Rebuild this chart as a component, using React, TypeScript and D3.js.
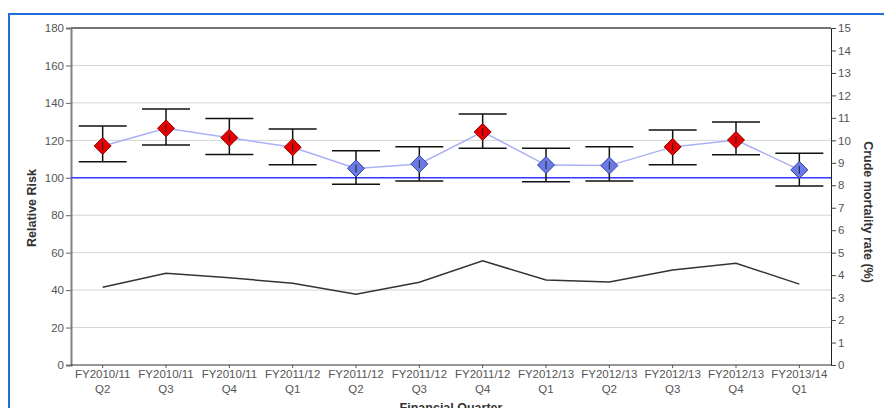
import React, { useEffect, useRef } from 'react';
import * as d3 from 'd3';

const quarters = [
  ['FY2010/11', 'Q2'], ['FY2010/11', 'Q3'], ['FY2010/11', 'Q4'], ['FY2011/12', 'Q1'],
  ['FY2011/12', 'Q2'], ['FY2011/12', 'Q3'], ['FY2011/12', 'Q4'], ['FY2012/13', 'Q1'],
  ['FY2012/13', 'Q2'], ['FY2012/13', 'Q3'], ['FY2012/13', 'Q4'], ['FY2013/14', 'Q1'],
];
const relRisk = [117, 126.4, 121.4, 116.3, 105, 107.4, 124.5, 106.8, 106.5, 116.5, 120.2, 104.2];
const ciUpper = [127.7, 136.8, 131.6, 126, 114.5, 116.6, 134, 115.8, 116.6, 125.5, 129.8, 113.1];
const ciLower = [108.6, 117.5, 112.5, 107, 96.6, 98.3, 115.8, 97.9, 98.3, 107, 112.3, 95.6];
const mortality = [3.46, 4.08, 3.88, 3.64, 3.15, 3.68, 4.64, 3.78, 3.69, 4.23, 4.53, 3.6];
const leftTicks = [0, 20, 40, 60, 80, 100, 120, 140, 160, 180];
const rightTicks = d3.range(0, 16);

export default function App() {
  const svgRef = useRef<SVGSVGElement>(null);

  useEffect(() => {
    const svg = d3.select(svgRef.current);
    svg.selectAll('*').remove();
    const left = 71, right = 831, top = 28, bottom = 365;
    const font = 'Liberation Sans, Arial, sans-serif';
    const fs = 11.5;

    const x = d3.scaleBand<number>().domain(d3.range(quarters.length)).range([left, right]);
    const y = d3.scaleLinear().domain([0, 180]).range([bottom, top]);
    const y2 = d3.scaleLinear().domain([0, 15]).range([bottom, top]);
    const cx = (i: number) => (x(i) as number) + x.bandwidth() / 2;

    // frame
    svg.append('path').attr('d', 'M9,420 V14 H900').attr('fill', 'none')
      .attr('stroke', '#1f6fd6').attr('stroke-width', 2);

    // grid
    svg.append('g').selectAll('line').data(leftTicks.filter(t => t > 0 && t < 180)).join('line')
      .attr('x1', left).attr('x2', right).attr('y1', d => y(d)).attr('y2', d => y(d))
      .attr('stroke', '#d4d4d4').attr('stroke-width', 1);
    svg.append('line').attr('x1', left).attr('x2', right).attr('y1', y(180)).attr('y2', y(180))
      .attr('stroke', '#444').attr('stroke-width', 1.5);

    // left axis
    const gl = svg.append('g').attr('transform', `translate(${left},0)`)
      .call(d3.axisLeft(y).tickValues(leftTicks).tickSize(5).tickPadding(2));
    gl.select('.domain').attr('stroke', '#808080').attr('stroke-width', 2);
    gl.selectAll('.tick line').attr('stroke', '#666');
    gl.selectAll('text').attr('font-family', font).attr('font-size', fs).attr('fill', '#555');

    // right axis
    const gr = svg.append('g').attr('transform', `translate(${right},0)`)
      .call(d3.axisRight(y2).tickValues(rightTicks).tickSize(5).tickPadding(2));
    gr.select('.domain').attr('stroke', '#222').attr('stroke-width', 1);
    gr.selectAll('.tick line').attr('stroke', '#444');
    gr.selectAll('text').attr('font-family', font).attr('font-size', fs).attr('fill', '#555');

    // bottom axis
    svg.append('line').attr('x1', left).attr('x2', right).attr('y1', bottom).attr('y2', bottom)
      .attr('stroke', '#333').attr('stroke-width', 1);
    const gb = svg.append('g').selectAll('g').data(quarters).join('g')
      .attr('transform', (d, i) => `translate(${cx(i)},${bottom})`);
    gb.append('line').attr('y1', 0).attr('y2', 3).attr('stroke', '#555');
    gb.append('text').attr('y', 13).attr('text-anchor', 'middle').attr('font-family', font)
      .attr('font-size', fs).attr('fill', '#555').text(d => d[0]);
    gb.append('text').attr('y', 28).attr('text-anchor', 'middle').attr('font-family', font)
      .attr('font-size', fs).attr('fill', '#555').text(d => d[1]);

    // titles
    svg.append('text').attr('transform', `translate(36,208) rotate(-90)`).attr('text-anchor', 'middle')
      .attr('font-family', font).attr('font-size', 12.5).attr('font-weight', 'bold').attr('fill', '#333')
      .text('Relative Risk');
    svg.append('text').attr('transform', `translate(864,212) rotate(90)`).attr('text-anchor', 'middle')
      .attr('font-family', font).attr('font-size', 12.5).attr('font-weight', 'bold').attr('fill', '#333')
      .text('Crude mortality rate (%)');
    svg.append('text').attr('x', 451).attr('y', 412).attr('text-anchor', 'middle')
      .attr('font-family', font).attr('font-size', 12.5).attr('font-weight', 'bold').attr('fill', '#333')
      .text('Financial Quarter');

    // reference line
    svg.append('line').attr('x1', left).attr('x2', right).attr('y1', y(100)).attr('y2', y(100))
      .attr('stroke', '#3a3aff').attr('stroke-width', 1.5);

    // mortality line
    svg.append('path').datum(mortality)
      .attr('d', d3.line<number>().x((d, i) => cx(i)).y(d => y2(d)))
      .attr('fill', 'none').attr('stroke', '#333').attr('stroke-width', 1.5);

    // error bars
    const eb = svg.append('g').selectAll('g').data(relRisk).join('g');
    const cap = 24;
    eb.append('line').attr('x1', (d, i) => cx(i)).attr('x2', (d, i) => cx(i))
      .attr('y1', (d, i) => y(ciUpper[i])).attr('y2', (d, i) => y(ciLower[i]))
      .attr('stroke', '#111').attr('stroke-width', 1.5);
    eb.append('line').attr('x1', (d, i) => cx(i) - cap).attr('x2', (d, i) => cx(i) + cap)
      .attr('y1', (d, i) => y(ciUpper[i])).attr('y2', (d, i) => y(ciUpper[i]))
      .attr('stroke', '#111').attr('stroke-width', 1.5);
    eb.append('line').attr('x1', (d, i) => cx(i) - cap).attr('x2', (d, i) => cx(i) + cap)
      .attr('y1', (d, i) => y(ciLower[i])).attr('y2', (d, i) => y(ciLower[i]))
      .attr('stroke', '#111').attr('stroke-width', 1.5);

    // risk line
    svg.append('path').datum(relRisk)
      .attr('d', d3.line<number>().x((d, i) => cx(i)).y(d => y(d)))
      .attr('fill', 'none').attr('stroke', '#aab0f5').attr('stroke-width', 1.5);

    // diamonds
    const r = 8.5;
    svg.append('g').selectAll('path').data(relRisk).join('path')
      .attr('d', (d, i) => {
        const px = cx(i), py = y(d);
        return `M${px},${py - r} L${px + r},${py} L${px},${py + r} L${px - r},${py} Z`;
      })
      .attr('fill', (d, i) => (ciLower[i] > 100 ? '#e80000' : '#6a7be8'))
      .attr('stroke', (d, i) => (ciLower[i] > 100 ? '#8a0000' : '#3240a0'))
      .attr('stroke-width', 1);
    svg.append('g').selectAll('line').data(relRisk).join('line')
      .attr('x1', (d, i) => cx(i)).attr('x2', (d, i) => cx(i))
      .attr('y1', d => y(d) - 4).attr('y2', d => y(d) + 4)
      .attr('stroke', '#222').attr('stroke-width', 1);
  }, []);

  return (
    <svg ref={svgRef} width={884} height={408}
      style={{ position: 'absolute', left: 0, top: 0, background: '#fff' }} />
  );
}
